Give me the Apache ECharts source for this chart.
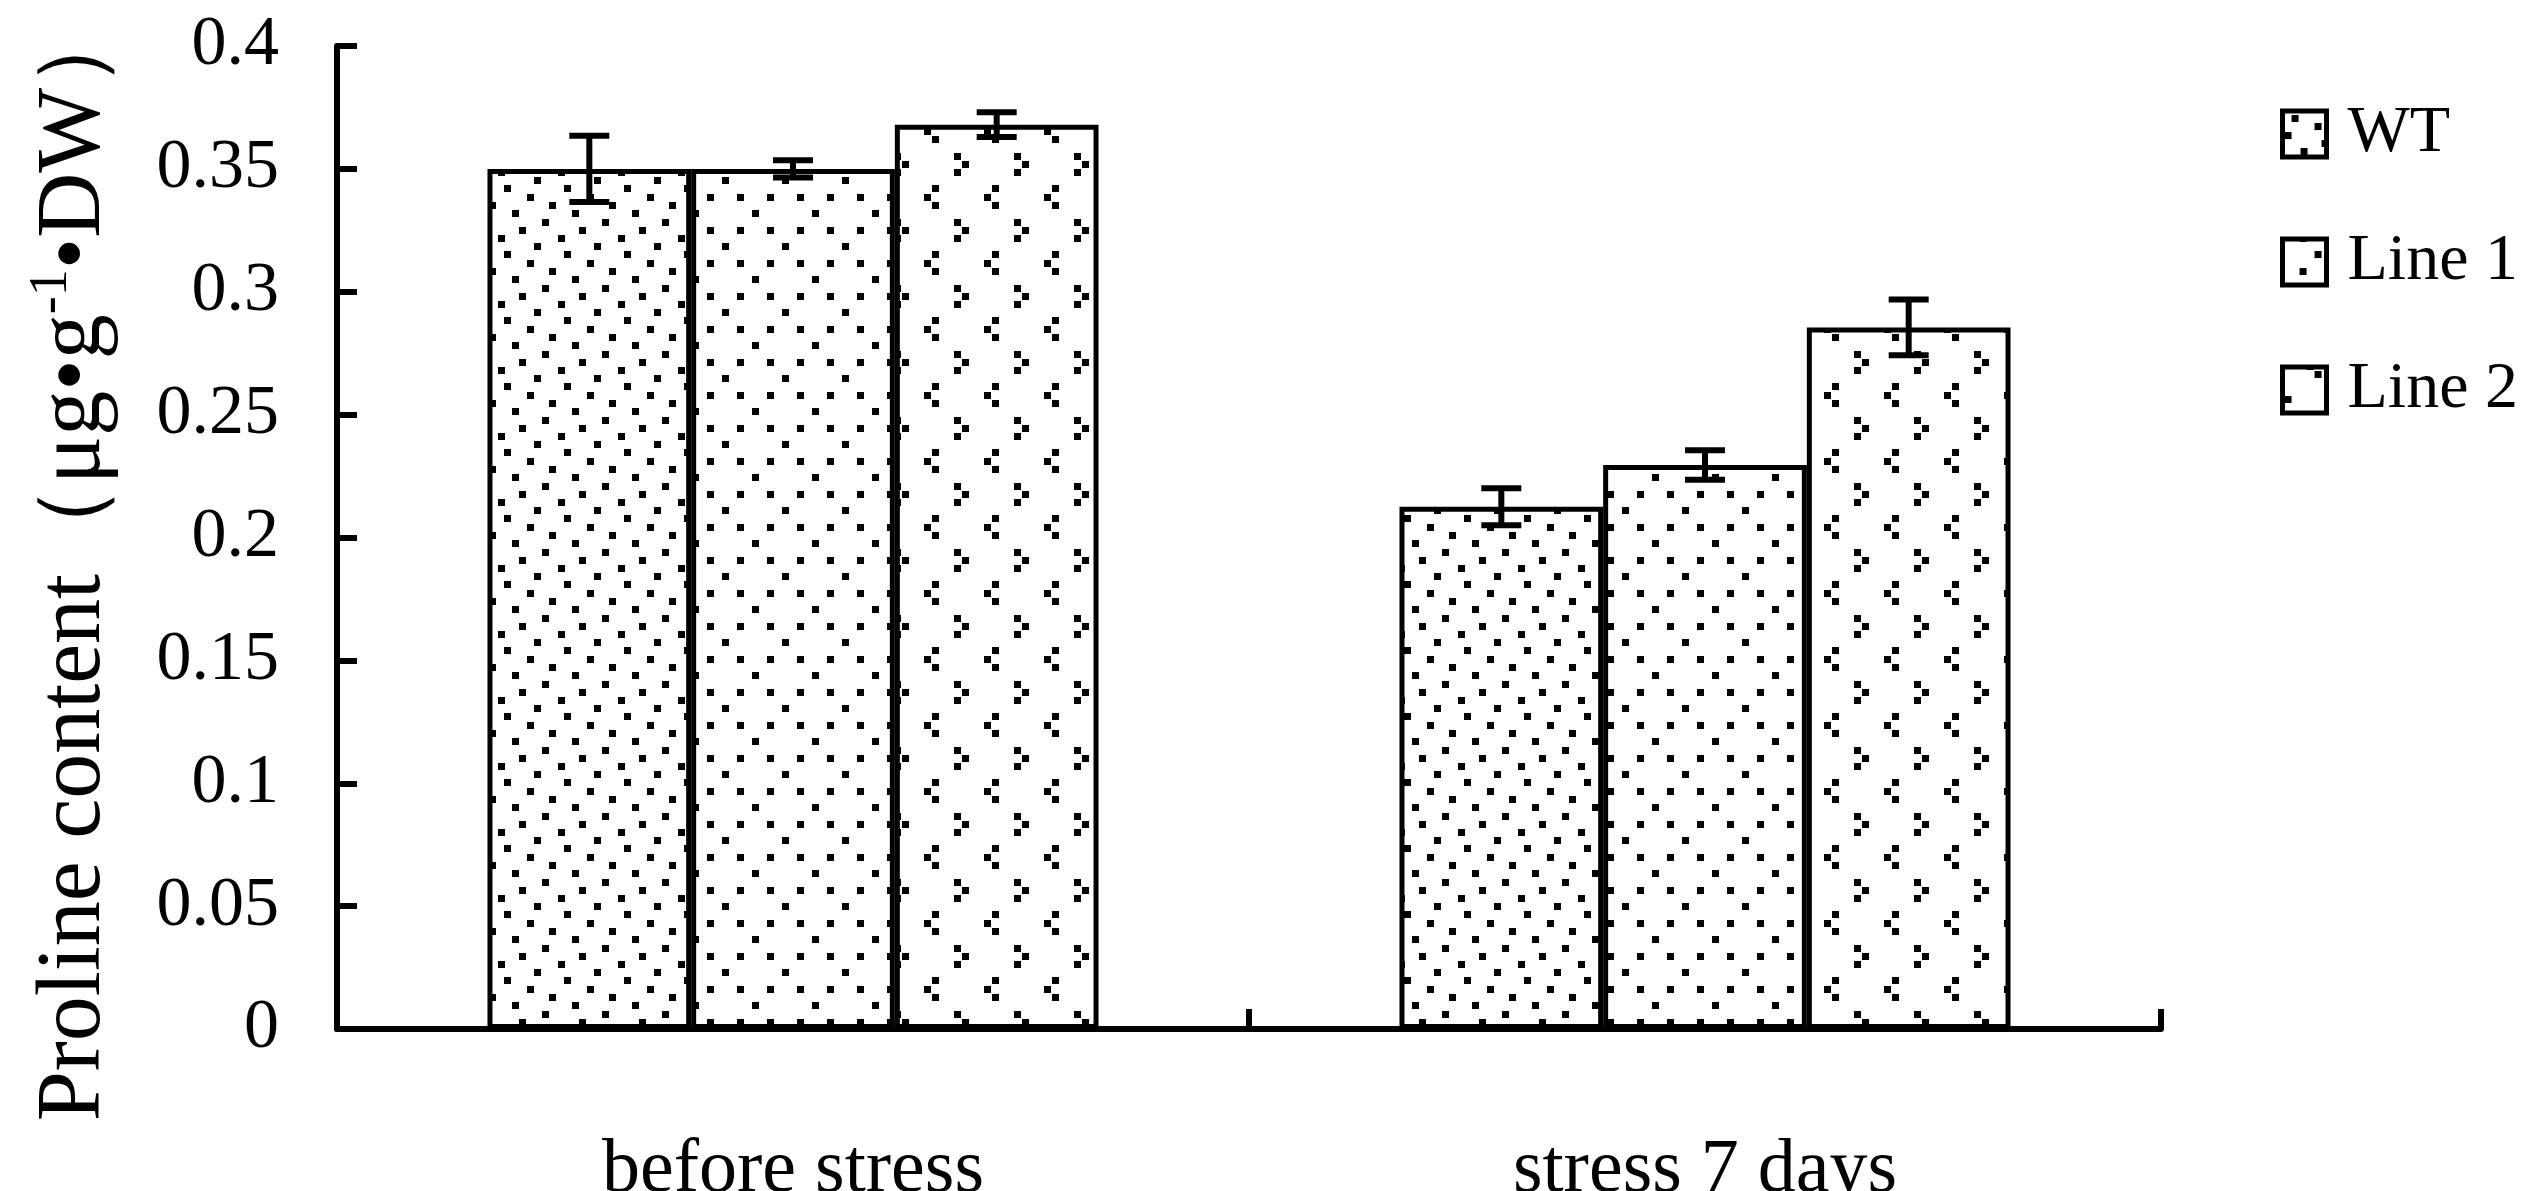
<!DOCTYPE html>
<html>
<head>
<meta charset="utf-8">
<script src="https://cdn.jsdelivr.net/npm/echarts@6/dist/echarts.min.js"></script>
<style>
html,body{margin:0;padding:0;background:#fff;}
#chart{width:2525px;height:1191px;}
</style>
</head>
<body>
<div id="chart"></div>
<script>
// ---- data ----
const categories = ['before stress', 'stress 7 days'];
const seriesNames = ['WT', 'Line 1', 'Line 2'];
const wtValues = [0.35, 0.2125];
const line1Values = [0.35, 0.2295];
const line2Values = [0.368, 0.2855];
const wtErrors = [0.0135, 0.0075];
const line1Errors = [0.0035, 0.006];
const line2Errors = [0.005, 0.0113];
const yMin = 0, yMax = 0.4, yStep = 0.05;
const yAxisName = 'Proline content（μg•g{sup|-1}•DW）';

// ---- styles ----
const FONT = '"Liberation Serif", "Times New Roman", serif';
const CATEGORY_GAP = 0.33;
const TILE_W = 60, TILE_H = 66, DOT = 7;
const patternDots = {
  'WT': [[12.7,7.3],[35,15.7],[5.3,24],[42.7,32.3],[21,40],[57.7,48.3],[27.7,56.7],[50.3,65]],
  'Line 1': [[35,15.7],[50,32.3],[20,32.3],[5,48.3],[50,65],[20,65]],
  'Line 2': [[57.3,24],[5,32.3],[57.3,40],[35,56.7],[27.3,65],[35,7.3]]
};
function makePattern(dots) {
  const c = document.createElement('canvas');
  c.width = TILE_W; c.height = TILE_H;
  const ctx = c.getContext('2d');
  ctx.fillStyle = '#fff';
  ctx.fillRect(0, 0, TILE_W, TILE_H);
  ctx.fillStyle = '#000';
  dots.forEach(([cx, cy]) => {
    for (let dx = -1; dx <= 1; dx++) for (let dy = -1; dy <= 1; dy++) {
      ctx.fillRect(Math.round(cx - DOT/2 + dx*TILE_W), Math.round(cy - DOT/2 + dy*TILE_H), DOT, DOT);
    }
  });
  return { image: c, repeat: 'repeat' };
}

const valueSets = [wtValues, line1Values, line2Values];
const errorSets = [wtErrors, line1Errors, line2Errors];

function errRenderer(idx) {
  return function (params, api) {
    const cat = api.value(0);
    const lo = api.coord([cat, api.value(1)]);
    const hi = api.coord([cat, api.value(2)]);
    const band = api.size([1, 0])[0];
    const bw = band * (1 - CATEGORY_GAP) / 3;
    const x = lo[0] + (idx - 1) * bw;
    const cap = 20;
    const st = { stroke: '#000', lineWidth: 6 };
    return {
      type: 'group',
      children: [
        { type: 'line', shape: { x1: x, y1: hi[1], x2: x, y2: lo[1] }, style: st },
        { type: 'line', shape: { x1: x - cap, y1: hi[1], x2: x + cap, y2: hi[1] }, style: st },
        { type: 'line', shape: { x1: x - cap, y1: lo[1], x2: x + cap, y2: lo[1] }, style: st }
      ]
    };
  };
}

const series = [];
seriesNames.forEach((name, i) => {
  series.push({
    name: name,
    type: 'bar',
    data: valueSets[i],
    barGap: '0%',
    barCategoryGap: (CATEGORY_GAP * 100) + '%',
    itemStyle: { color: makePattern(patternDots[name]), borderColor: '#000', borderWidth: 5 },
    z: 2
  });
});
seriesNames.forEach((name, i) => {
  series.push({
    name: name + ' error',
    type: 'custom',
    renderItem: errRenderer(i),
    data: valueSets[i].map((v, k) => [k, v - errorSets[i][k], v + errorSets[i][k]]),
    encode: { x: 0, y: [1, 2] },
    z: 5,
    silent: true
  });
});

const chart = echarts.init(document.getElementById('chart'), null, { renderer: 'canvas' });
chart.setOption({
  animation: false,
  backgroundColor: '#fff',
  textStyle: { fontFamily: FONT, color: '#000' },
  grid: { left: 337, right: 364, top: 46, bottom: 162, containLabel: false, outerBoundsMode: 'none' },
  legend: {
    data: seriesNames,
    orient: 'vertical',
    left: 2275,
    top: 96,
    itemWidth: 44,
    itemHeight: 46,
    itemGap: 62,
    icon: 'rect',
    itemStyle: { borderColor: '#000', borderWidth: 5 },
    textStyle: { fontFamily: FONT, fontSize: 66, color: '#000', padding: [0, 0, 0, 16] }
  },
  xAxis: {
    type: 'category',
    data: categories,
    axisLine: { lineStyle: { color: '#000', width: 6 } },
    axisTick: { show: true, inside: true, length: 20, lineStyle: { color: '#000', width: 6 } },
    axisLabel: { fontFamily: FONT, fontSize: 76, color: '#000', margin: 104 },
    splitLine: { show: false }
  },
  yAxis: {
    type: 'value',
    min: yMin,
    max: yMax,
    interval: yStep,
    name: yAxisName,
    nameLocation: 'middle',
    nameGap: 212,
    nameRotate: 90,
    nameTextStyle: {
      fontFamily: FONT, fontSize: 90, color: '#000', lineHeight: 100,
      padding: [0, 44, 0, 0],
      rich: { sup: { fontFamily: FONT, fontSize: 54, lineHeight: 54, verticalAlign: 'top', color: '#000' } }
    },
    axisLine: { show: true, lineStyle: { color: '#000', width: 6 } },
    axisTick: { show: true, inside: true, length: 20, lineStyle: { color: '#000', width: 6 } },
    axisLabel: { fontFamily: FONT, fontSize: 70, color: '#000', margin: 58 },
    splitLine: { show: false }
  },
  series: series
});
</script>
</body>
</html>
